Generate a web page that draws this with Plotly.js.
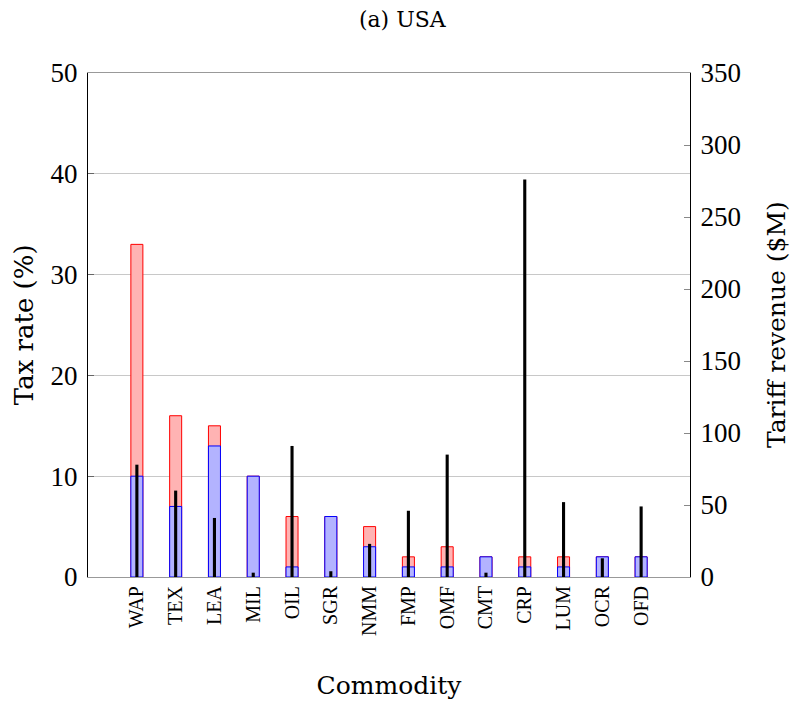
<!DOCTYPE html>
<html><head><meta charset="utf-8">
<script src="https://cdn.plot.ly/plotly-3.0.1.min.js"></script>
<style>body{margin:0;background:#fff}#c{width:795px;height:705px}</style>
</head><body><div id="c"></div>
<script>
const commodities = ["WAP","TEX","LEA","MIL","OIL","SGR","NMM","FMP","OMF","CMT","CRP","LUM","OCR","OFD"];
const taxHigh = [33,16,15,10,6,6,5,2,3,2,2,2,2,2];
const taxLow = [10,7,13,10,1,6,3,1,1,2,1,1,2,2];
const revenue = [78,60,41,3,91,4,23,46,85,3,276,52,13,49];

const serif = "Liberation Serif";
const charter = "DejaVu Serif";

const traces = [
  {type:'bar', x:commodities, y:taxHigh, width:0.31, marker:{color:'#ffb3b3', line:{color:'#ff0000', width:1}}, showlegend:false, hoverinfo:'skip'},
  {type:'bar', x:commodities, y:taxLow, width:0.31, marker:{color:'#b3b3ff', line:{color:'#0000ff', width:1}}, showlegend:false, hoverinfo:'skip'},
  {type:'bar', x:commodities, y:revenue, yaxis:'y2', width:0.08, marker:{color:'#000000', line:{width:0}}, showlegend:false, hoverinfo:'skip'}
];

const layout = {
  width:795, height:705,
  margin:{l:88, r:105, t:73, b:128},
  paper_bgcolor:'#fff', plot_bgcolor:'#fff',
  barmode:'overlay',
  title:{text:'(a) USA', font:{family:charter, size:22, color:'#000'}, x:0.506, xanchor:'center', y:0.972, yanchor:'middle'},
  xaxis:{
    type:'category', range:[-1.26,14.26], showgrid:false, zeroline:false,
    showline:true, mirror:true, linecolor:'#999', linewidth:1,
    ticks:'', tickangle:-90, tickfont:{family:serif, size:20, color:'#000'},
    title:{text:'Commodity', font:{family:charter, size:25, color:'#000'}, standoff:41}
  },
  yaxis:{
    range:[0,50], dtick:10, showgrid:true, gridcolor:'#c8c8c8', gridwidth:1, zeroline:false,
    showline:true, linecolor:'#000', linewidth:1,
    ticks:'inside', ticklen:6, tickcolor:'#666', tickfont:{family:serif, size:27, color:'#000'},
    ticklabelstandoff:4
  },
  yaxis2:{
    overlaying:'y', side:'right', range:[0,350], dtick:50, showgrid:false, zeroline:false,
    showline:true, linecolor:'#000', linewidth:1,
    ticks:'inside', ticklen:6, tickcolor:'#888', tickfont:{family:serif, size:27, color:'#000'},
    ticklabelstandoff:4
  },
  annotations:[
    {text:'Tax rate (%)', textangle:-90, xref:'paper', yref:'paper', x:-0.106, y:0.5,
     xanchor:'center', yanchor:'middle', showarrow:false, font:{family:charter, size:26, color:'#000'}},
    {text:'Tariff revenue ($M)', textangle:-90, xref:'paper', yref:'paper', x:1.143, y:0.5,
     xanchor:'center', yanchor:'middle', showarrow:false, font:{family:charter, size:25, color:'#000'}}
  ]
};
Plotly.newPlot('c', traces, layout, {staticPlot:true, displayModeBar:false});
</script></body></html>
